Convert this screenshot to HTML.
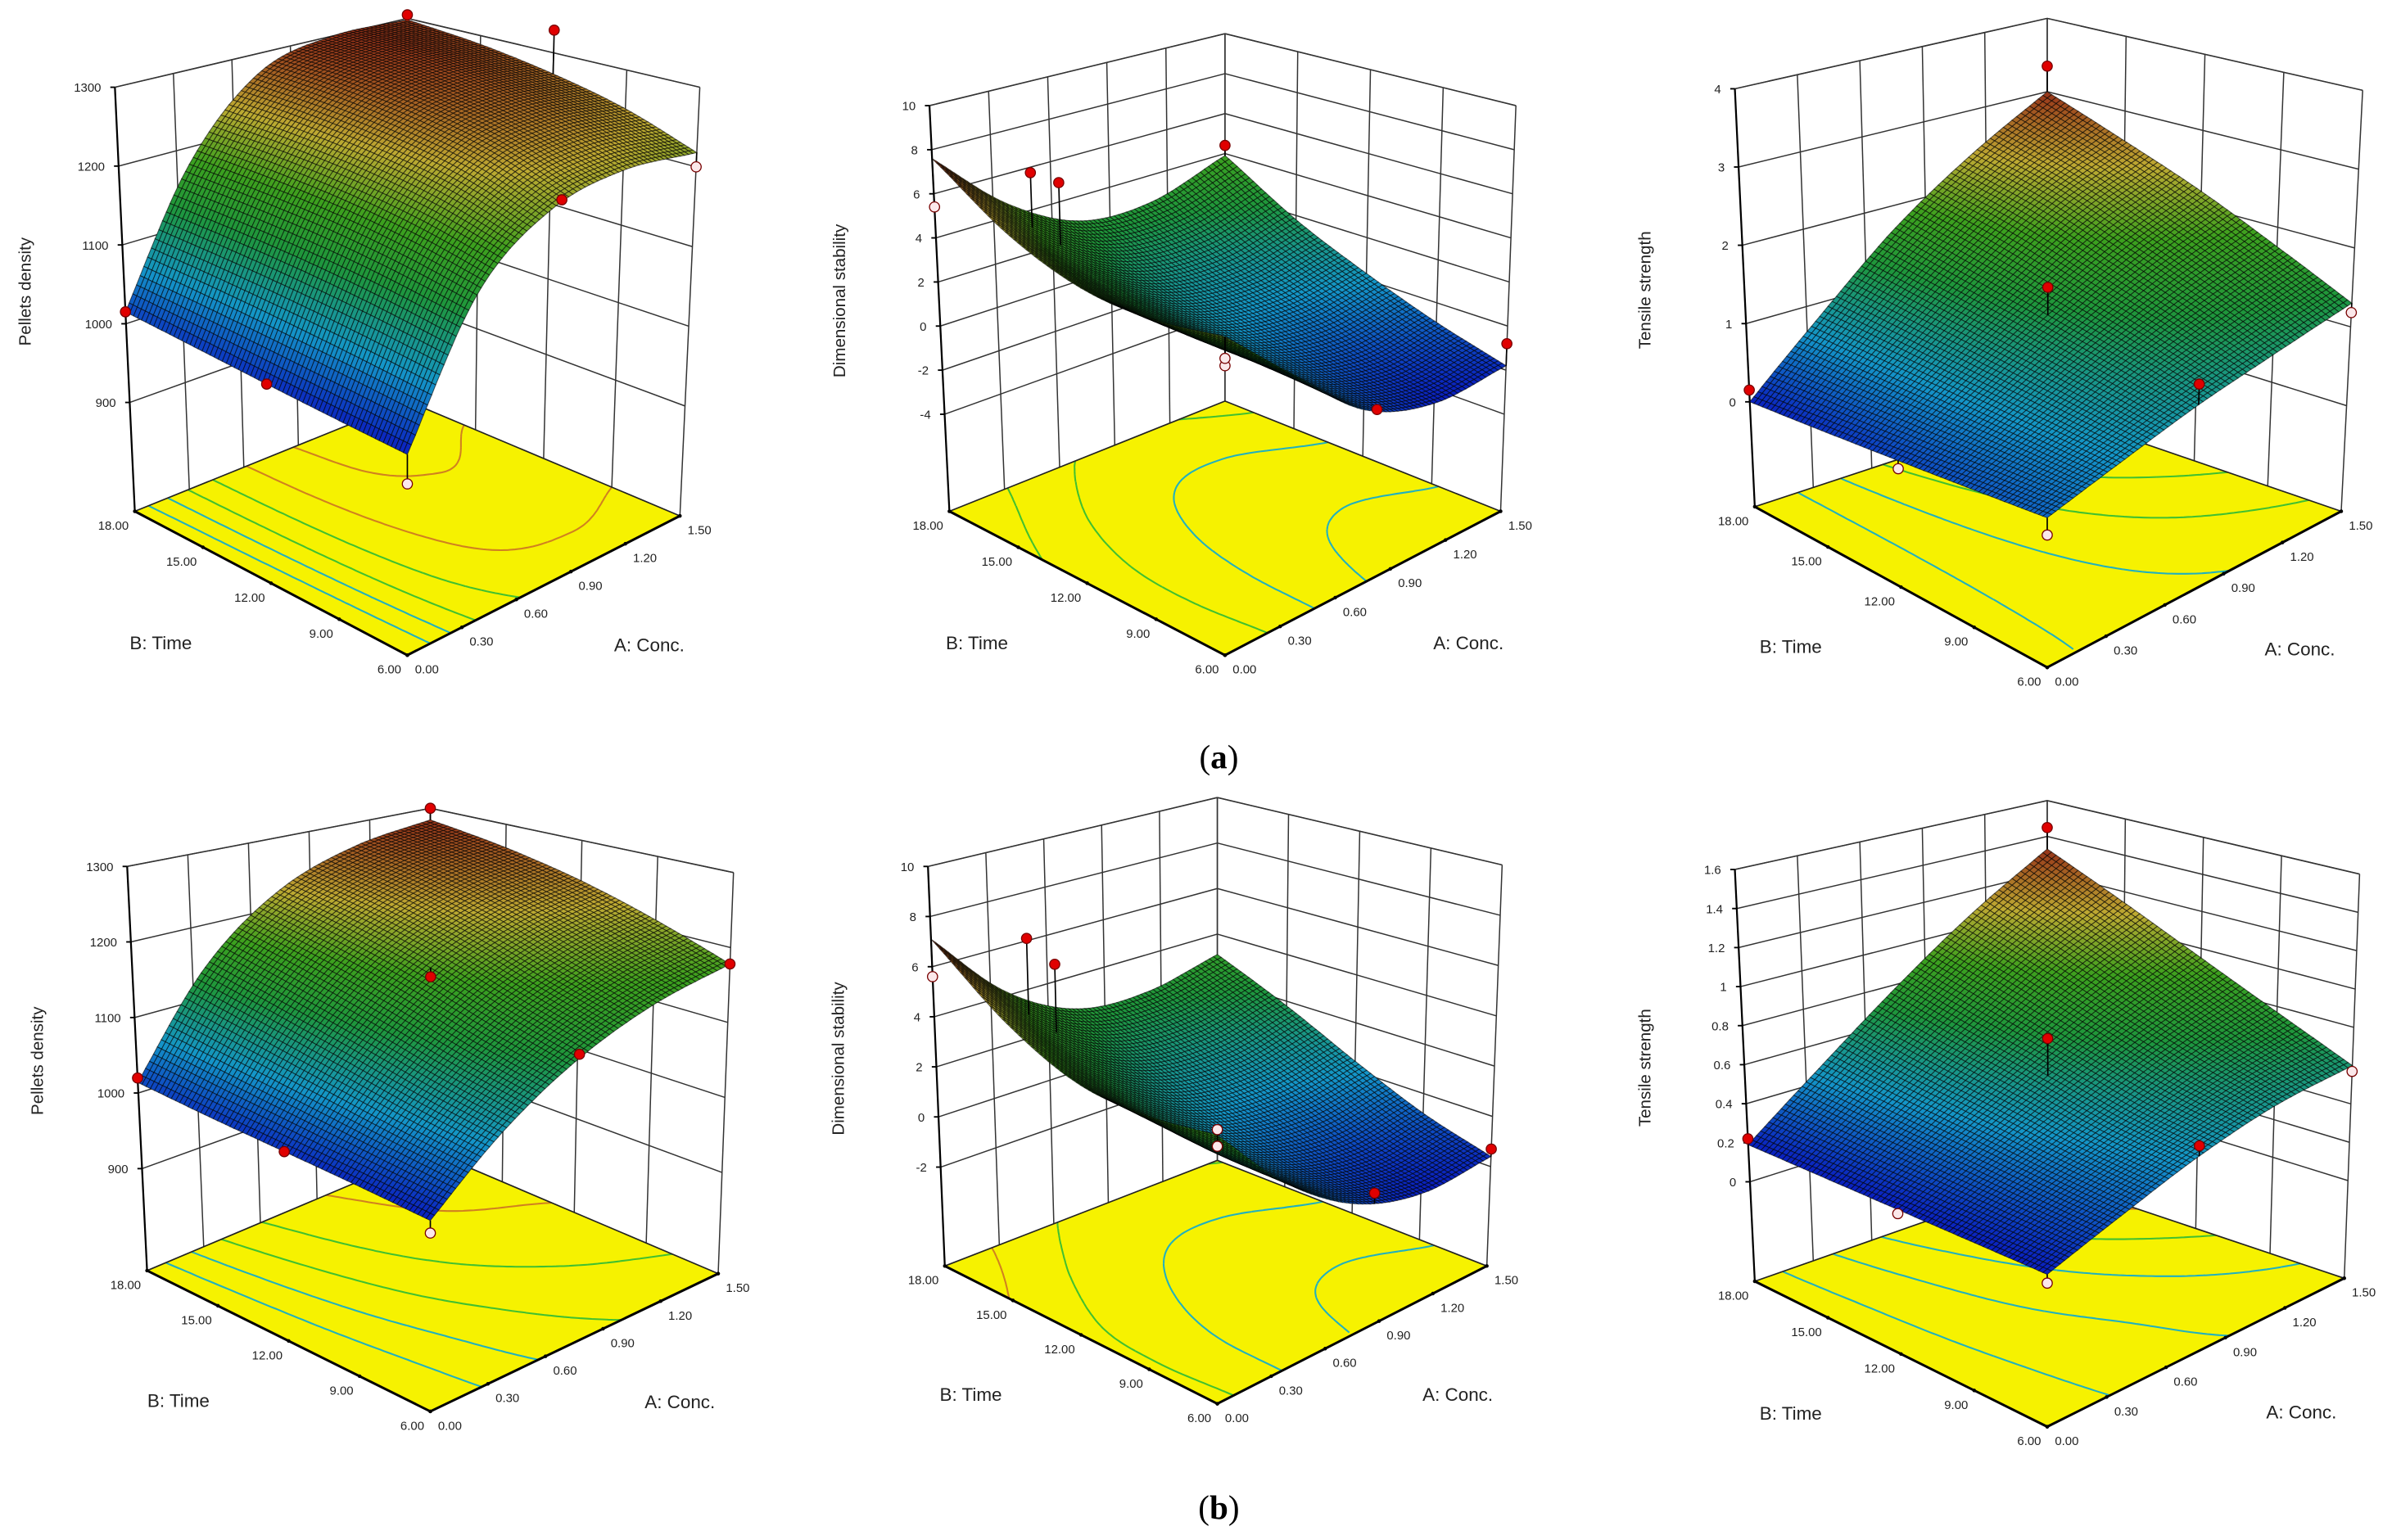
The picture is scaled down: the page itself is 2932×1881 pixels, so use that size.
<!DOCTYPE html>
<html><head><meta charset="utf-8"><title>Response surface plots</title>
<style>
html,body{margin:0;padding:0;background:#fff;}
svg{display:block;}
text{font-family:"Liberation Sans",sans-serif;fill:#222;}
.cap{font-family:"Liberation Serif",serif;fill:#000;}
</style></head>
<body>
<svg id="fig" xmlns="http://www.w3.org/2000/svg" width="2932" height="1881" viewBox="0 0 1568 1006">
<rect x="0" y="0" width="1568" height="1006" fill="#fff"/>
<text class="cap" x="796" y="502" font-size="22" text-anchor="middle">(<tspan font-weight="bold">a</tspan>)</text>
<text class="cap" x="796" y="992" font-size="22" text-anchor="middle">(<tspan font-weight="bold">b</tspan>)</text>
</svg>
<script>
// ---- data: surface values, rows = B (6,9,12,15,18), cols = A (0,0.375,0.75,1.125,1.5)
const aTickLabels=['0.00','0.30','0.60','0.90','1.20','1.50'];
const bTickLabels=['6.00','9.00','12.00','15.00','18.00'];
const a1Grid=[[994,1150,1215,1230,1218],[998,1165,1245,1262,1250],[1003,1175,1262,1282,1272],[1009,1180,1272,1295,1288],[1015,1182,1276,1300,1298]];
const a2Grid=[[4.8,1.9,-0.9,-2.0,-1.8],[4.3,1.8,-0.4,-1.3,-0.9],[4.4,2.1,0.3,-0.2,0.3],[5.5,3.0,1.3,1.0,1.8],[7.6,4.6,2.8,2.7,3.9]];
const a3Grid=[[0.4,0.65,0.9,1.1,1.3],[0.3,0.7,1.1,1.45,1.75],[0.2,0.75,1.3,1.8,2.2],[0.1,0.8,1.5,2.15,2.6],[0.0,0.85,1.7,2.4,3.0]];
const b1Grid=[[995,1070,1125,1160,1178],[1000,1085,1150,1190,1212],[1004,1105,1180,1222,1242],[1008,1125,1205,1248,1265],[1014,1145,1225,1265,1282]];
const b2Grid=[[3.7,0.9,-1.0,-1.8,-1.6],[3.4,1.0,-0.6,-1.2,-0.8],[3.6,1.6,0.2,-0.1,0.4],[4.9,2.7,1.3,1.1,1.8],[7.1,4.2,2.6,2.4,3.1]];
const b3Grid=[[0.19,0.32,0.45,0.55,0.6],[0.19,0.35,0.5,0.65,0.77],[0.19,0.39,0.59,0.78,0.95],[0.19,0.43,0.68,0.93,1.14],[0.19,0.48,0.78,1.07,1.33]];
// z tick values / labels
const a1ZTicks=[900,1000,1100,1200,1300];
const a2ZTicks=[-4,-2,0,2,4,6,8,10];
const a3ZTicks=[0,1,2,3,4];
const b1ZTicks=[900,1000,1100,1200,1300];
const b2ZTicks=[-2,0,2,4,6,8,10];
const b3ZTicks=[0,0.2,0.4,0.6,0.8,1,1.2,1.4,1.6];
const b3ZLabels=['0','0.2','0.4','0.6','0.8','1','1.2','1.4','1.6'];
// design points [A, B, value, type]
const a1Points=[[0,18,1015,'r'],[0,12,1003,'r'],[1.5,18,1305,'r'],[1.5,12,1330,'r'],[0.8,6,1222,'r'],[1.5,6,1200,'w'],[0,6,960,'w']];
const a2Points=[[1.5,18,4.4,'r'],[0.35,16.8,6.6,'r'],[0.42,16.2,6.2,'r'],[0,18,5.4,'w'],[0,6,3.6,'w'],[0,6,3.9,'w'],[0.81,6,-1.1,'r'],[1.5,6,-0.8,'r']];
const a3Points=[[1.5,18,3.35,'r'],[0,18,0.15,'r'],[0.75,12,1.65,'r'],[1.5,6,1.18,'w'],[0,6,0.2,'w'],[0,12,0.1,'w'],[0.75,6,1.15,'r']];
const b1Points=[[0,18,1020,'r'],[0,12,1004,'r'],[1.5,18,1300,'r'],[0.75,12,1168,'r'],[0.75,6,1130,'r'],[1.5,6,1178,'r'],[0,6,980,'w']];
const b2Points=[[0.35,16.8,6.8,'r'],[0.42,16.2,5.8,'r'],[0,18,5.6,'w'],[0,6,3.9,'w'],[0,6,3.3,'w'],[0.86,6,-0.94,'r'],[1.5,6,-1.3,'r']];
const b3Points=[[1.5,18,1.45,'r'],[0.75,12,0.78,'r'],[0,18,0.22,'r'],[1.5,6,0.57,'w'],[0.75,6,0.5,'r'],[0,6,0.15,'w'],[0,12,0.17,'w']];
// contour levels on the floor
const a1Levels=[1050,1100,1150,1200,1250,1290];
const a2Levels=[-1,1,3,5];
const a3Levels=[0.5,1,1.5,2,2.5];
const b1Levels=[1050,1100,1150,1200,1250];
const b2Levels=[-1,1,3,5];
const b3Levels=[0.3,0.5,0.7,0.9,1.1];

// ---- panel geometry (screen layout, not data)
const panels=[
 {id:'a1',title:'Pellets density',grid:a1Grid,ticks:a1ZTicks,labels:null,pts:a1Points,levels:a1Levels,zmin:762,zmax:1300,
  F:[266,428],R:[444,337],L:[88,334],B:[266,262],Ft:[266,124],Rt:[457,57],Lt:[75,57],Bt:[266,12]},
 {id:'a2',title:'Dimensional stability',grid:a2Grid,ticks:a2ZTicks,labels:null,pts:a2Points,levels:a2Levels,zmin:-8.4,zmax:10,
  F:[800,428],R:[980,334],L:[620,334],B:[800,262],Ft:[800,138],Rt:[990,69],Lt:[607,69],Bt:[800,22]},
 {id:'a3',title:'Tensile strength',grid:a3Grid,ticks:a3ZTicks,labels:null,pts:a3Points,levels:a3Levels,zmin:-1.34,zmax:4,
  F:[1337,436],R:[1529,334],L:[1146,331],B:[1337,268],Ft:[1337,136],Rt:[1543,59],Lt:[1133,58],Bt:[1337,12]},
 {id:'b1',title:'Pellets density',grid:b1Grid,ticks:b1ZTicks,labels:null,pts:b1Points,levels:b1Levels,zmin:765,zmax:1300,
  F:[281,922],R:[469,832],L:[96,830],B:[281,752],Ft:[281,632],Rt:[479,570],Lt:[83,566],Bt:[281,528]},
 {id:'b2',title:'Dimensional stability',grid:b2Grid,ticks:b2ZTicks,labels:null,pts:b2Points,levels:b2Levels,zmin:-5.95,zmax:10,
  F:[795,917],R:[971,827],L:[617,827],B:[795,758],Ft:[795,627],Rt:[981,565],Lt:[606,566],Bt:[795,521]},
 {id:'b3',title:'Tensile strength',grid:b3Grid,ticks:b3ZTicks,labels:b3ZLabels,pts:b3Points,levels:b3Levels,zmin:-0.51,zmax:1.6,
  F:[1337,932],R:[1531,835],L:[1146,837],B:[1337,770],Ft:[1337,632],Rt:[1541,571],Lt:[1133,568],Bt:[1337,523]}
];

const NS='http://www.w3.org/2000/svg';
const svg=document.getElementById('fig');
function mk(tag,parent){const e=document.createElementNS(NS,tag);parent.appendChild(e);return e;}
function cr(p0,p1,p2,p3,t){return 0.5*((2*p1)+(-p0+p2)*t+(2*p0-5*p1+4*p2-p3)*t*t+(-p0+3*p1-3*p2+p3)*t*t*t);}
function interp(g,u,v){
 const n=4,x=u*n,y=v*n;
 const i=Math.min(Math.floor(x),n-1),j=Math.min(Math.floor(y),n-1),tx=x-i,ty=y-j;
 const G=(r,c)=>{const rr=Math.max(0,Math.min(n,r)),cc=Math.max(0,Math.min(n,c));
   let val=g[rr][cc];
   if(r<0)val=2*g[0][cc]-g[1][cc]; if(r>n)val=2*g[n][cc]-g[n-1][cc];
   if(c<0)val=2*g[rr][0]-g[rr][1]; if(c>n)val=2*g[rr][n]-g[rr][n-1];
   return val;};
 const col=[];
 for(let r=j-1;r<=j+2;r++)col.push(cr(G(r,i-1),G(r,i),G(r,i+1),G(r,i+2),tx));
 return cr(col[0],col[1],col[2],col[3],ty);
}
function bil(P,Q,S,T,u,v){
 return [P[0]*(1-u)*(1-v)+Q[0]*u*(1-v)+S[0]*(1-u)*v+T[0]*u*v, P[1]*(1-u)*(1-v)+Q[1]*u*(1-v)+S[1]*(1-u)*v+T[1]*u*v];
}
function proj(p,u,v,z){
 const w=(z-p.zmin)/(p.zmax-p.zmin);
 const b=bil(p.F,p.R,p.L,p.B,u,v), t=bil(p.Ft,p.Rt,p.Lt,p.Bt,u,v);
 return [b[0]+(t[0]-b[0])*w, b[1]+(t[1]-b[1])*w];
}
const stops=[[0,[10,30,190]],[0.22,[20,150,200]],[0.45,[30,150,60]],[0.62,[60,160,30]],[0.8,[190,170,50]],[1,[150,50,25]]];
function cmap(t){t=Math.max(0,Math.min(1,t));
 for(let k=1;k<stops.length;k++){if(t<=stops[k][0]){const a=stops[k-1],b=stops[k],f=(t-a[0])/(b[0]-a[0]);
  const c=a[1].map((x,i)=>Math.round(x+(b[1][i]-x)*f));return 'rgb('+c.join(',')+')';}}
 return 'rgb(150,50,25)';}
function fmt(v){return Math.abs(v-Math.round(v))<1e-9?String(Math.round(v)):String(v);}
function line(parent,a,b,stroke,sw){const l=mk('line',parent);l.setAttribute('x1',a[0].toFixed(1));l.setAttribute('y1',a[1].toFixed(1));l.setAttribute('x2',b[0].toFixed(1));l.setAttribute('y2',b[1].toFixed(1));l.setAttribute('stroke',stroke);l.setAttribute('stroke-width',sw);return l;}
function pt(a){return a[0].toFixed(1)+','+a[1].toFixed(1);}

panels.forEach(p=>{
 const g=mk('g',svg);
 
 
 const N=70;
 const vals=[];let vmin=1e9,vmax=-1e9;
 for(let j=0;j<=N;j++){vals.push([]);for(let i=0;i<=N;i++){const z=interp(p.grid,i/N,j/N);vals[j].push(z);vmin=Math.min(vmin,z);vmax=Math.max(vmax,z);}}
 const floor=mk('polygon',g);
 
 
 floor.setAttribute('points',[p.F,p.R,p.B,p.L].map(pt).join(' '));
 floor.setAttribute('fill','#f6f200');
 const cg=mk('g',g);
 
 
 p.levels.forEach(lv=>{
  let d='';
  for(let j=0;j<N;j++)for(let i=0;i<N;i++){
   const c=[[i,j,vals[j][i]],[i+1,j,vals[j][i+1]],[i+1,j+1,vals[j+1][i+1]],[i,j+1,vals[j+1][i]]];
   const cr2=[];
   for(let k=0;k<4;k++){const a=c[k],b=c[(k+1)%4];
    if((a[2]-lv)*(b[2]-lv)<0){const f=(lv-a[2])/(b[2]-a[2]);cr2.push([(a[0]+(b[0]-a[0])*f)/N,(a[1]+(b[1]-a[1])*f)/N]);}}
   for(let k=0;k+1<cr2.length;k+=2){const A=proj(p,cr2[k][0],cr2[k][1],p.zmin),B=proj(p,cr2[k+1][0],cr2[k+1][1],p.zmin);d+='M'+pt(A)+'L'+pt(B);}
  }
  const path=mk('path',cg);
  
  
  path.setAttribute('d',d);path.setAttribute('fill','none');
  const tt=(lv-vmin)/(vmax-vmin);
  path.setAttribute('stroke',tt>0.75?'#d08020':(tt>0.45?'#40c030':'#20b0c0'));
  path.setAttribute('stroke-width','1.1');
 });
 const wg=mk('g',g);
 
 
 const zl=p.ticks.concat([p.zmax]);
 zl.forEach(z=>{line(wg,proj(p,0,1,z),proj(p,1,1,z),'#333','0.8');line(wg,proj(p,1,1,z),proj(p,1,0,z),'#333','0.8');});
 for(let k=0;k<=5;k++){const u=k/5;line(wg,proj(p,u,1,p.zmin),proj(p,u,1,p.zmax),'#333','0.8');}
 for(let k=0;k<=4;k++){const v=k/4;line(wg,proj(p,1,v,p.zmin),proj(p,1,v,p.zmax),'#333','0.8');}
 line(wg,proj(p,0,1,p.zmin),proj(p,1,1,p.zmin),'#222','0.9');
 line(wg,proj(p,1,1,p.zmin),proj(p,1,0,p.zmin),'#222','0.9');
 const fe1=line(g,p.L,p.F,'#000','1.6');
 
 
 const fe2=line(g,p.F,p.R,'#000','1.6');
 
 
 const ze=line(g,proj(p,0,1,p.zmin),proj(p,0,1,p.zmax),'#000','1.2');
 
 
 p.ticks.forEach((z,k)=>{
  const q=proj(p,0,1,z);
  line(g,[q[0]-3,q[1]],q,'#000','1');
  const t=mk('text',g);
  
  
  t.setAttribute('x',(q[0]-9).toFixed(1));t.setAttribute('y',(q[1]+3).toFixed(1));
  t.setAttribute('font-size','8');t.setAttribute('text-anchor','end');
  t.textContent=p.labels?p.labels[k]:fmt(z);
 });
 bTickLabels.forEach((s,k)=>{
  const q=proj(p,0,k/4,p.zmin);
  const t=mk('text',g);
  
  
  t.setAttribute('x',(q[0]-4).toFixed(1));t.setAttribute('y',(q[1]+12).toFixed(1));
  t.setAttribute('font-size','8');t.setAttribute('text-anchor','end');t.textContent=s;
  const m=mk('circle',g);m.setAttribute('cx',q[0].toFixed(1));m.setAttribute('cy',q[1].toFixed(1));m.setAttribute('r','1.2');m.setAttribute('fill','#000');
 });
 aTickLabels.forEach((s,k)=>{
  const q=proj(p,k/5,0,p.zmin);
  const t=mk('text',g);
  
  
  t.setAttribute('x',(q[0]+5).toFixed(1));t.setAttribute('y',(q[1]+12).toFixed(1));
  t.setAttribute('font-size','8');t.setAttribute('text-anchor','start');t.textContent=s;
  const m=mk('circle',g);m.setAttribute('cx',q[0].toFixed(1));m.setAttribute('cy',q[1].toFixed(1));m.setAttribute('r','1.2');m.setAttribute('fill','#000');
 });
 const bt=mk('text',g);
 
 
 bt.setAttribute('x',((p.L[0]+p.F[0])/2-72).toFixed(1));bt.setAttribute('y',((p.L[1]+p.F[1])/2+43).toFixed(1));
 bt.setAttribute('font-size','12');bt.setAttribute('text-anchor','middle');bt.textContent='B: Time';
 const at=mk('text',g);
 
 
 at.setAttribute('x',((p.R[0]+p.F[0])/2+69).toFixed(1));at.setAttribute('y',((p.R[1]+p.F[1])/2+43).toFixed(1));
 at.setAttribute('font-size','12');at.setAttribute('text-anchor','middle');at.textContent='A: Conc.';
 const zt=mk('text',g);
 
 
 const zx=p.Lt[0]-55,zy=(p.Lt[1]+p.L[1])/2-5;
 zt.setAttribute('x',zx);zt.setAttribute('y',zy);
 zt.setAttribute('transform','rotate(-90 '+zx+' '+zy+')');
 zt.setAttribute('font-size','11');zt.setAttribute('text-anchor','middle');zt.textContent=p.title;
 const sg=mk('g',g);
 
 
 const quads=[];
 for(let j=0;j<N;j++)for(let i=0;i<N;i++)quads.push([i,j]);
 quads.sort((a,b)=>(b[0]+b[1])-(a[0]+a[1]));
 quads.forEach(([i,j])=>{
  const z00=vals[j][i],z10=vals[j][i+1],z11=vals[j+1][i+1],z01=vals[j+1][i];
  const poly=mk('polygon',sg);
  poly.setAttribute('points',[proj(p,i/N,j/N,z00),proj(p,(i+1)/N,j/N,z10),proj(p,(i+1)/N,(j+1)/N,z11),proj(p,i/N,(j+1)/N,z01)].map(pt).join(' '));
  const zz=(z00+z10+z11+z01)/4;
  poly.setAttribute('fill',cmap((zz-vmin)/(vmax-vmin)));
  poly.setAttribute('stroke','rgba(0,0,0,0.6)');
  poly.setAttribute('stroke-width','0.55');
 });
 p.pts.forEach(d=>{
  const u=d[0]/1.5,v=(d[1]-6)/12;
  const s=interp(p.grid,u,v);
  const q=proj(p,u,v,d[2]),qs=proj(p,u,v,s);
  line(g,q,qs,'#000','0.9');
  const c=mk('circle',g);
  
  
  c.setAttribute('cx',q[0].toFixed(1));c.setAttribute('cy',q[1].toFixed(1));c.setAttribute('r','3.3');
  c.setAttribute('fill',d[3]==='r'?'#e00000':'#fbe8ea');c.setAttribute('stroke','#700');c.setAttribute('stroke-width','0.7');
 });
});
</script>
</body></html>
